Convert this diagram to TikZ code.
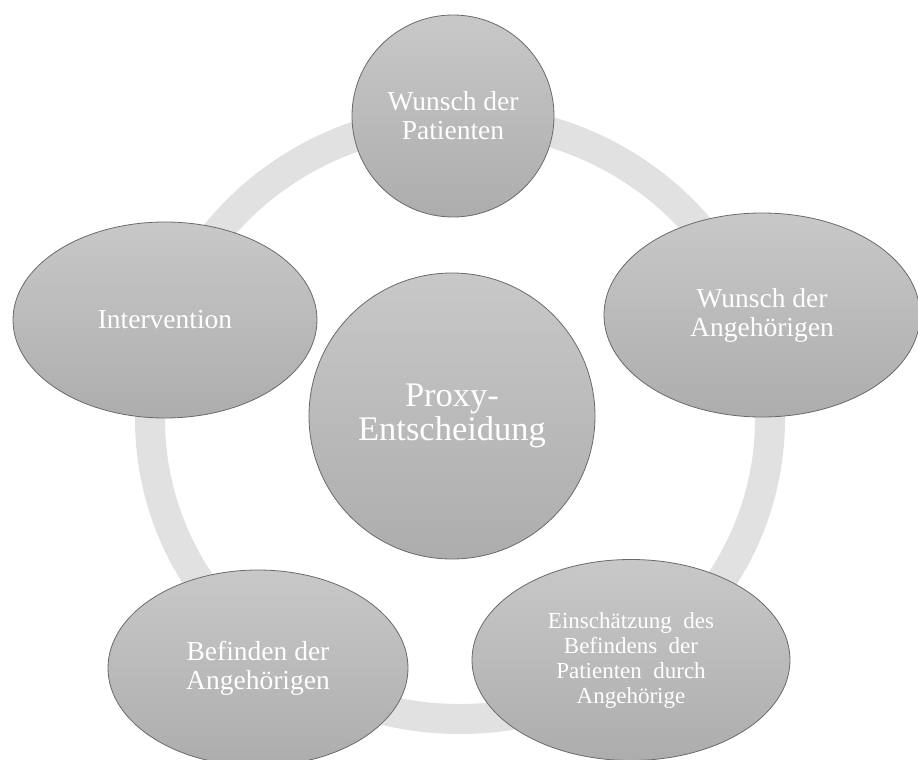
\documentclass[tikz,border=0pt]{standalone}
\usepackage{fontspec}
\setmainfont{Liberation Serif}
\usetikzlibrary{shapes.geometric}
\definecolor{ringgray}{HTML}{E1E1E1}
\definecolor{topgray}{HTML}{C8C8C8}
\definecolor{botgray}{HTML}{ADADAD}
\definecolor{edgegray}{HTML}{6A6A6A}
\tikzset{
  bubble/.style={draw=edgegray, line width=0.8pt, top color=topgray, bottom color=botgray,
    text=white, align=center, inner sep=0pt},
  circbub/.style={bubble, circle},
  ellbub/.style={bubble, ellipse},
  ring/.style={draw=ringgray, line width=30pt},
  normtext/.style={font=\fontsize{27.5}{29}\selectfont},
  bigtext/.style={font=\fontsize{34.5}{34.5}\selectfont},
  smalltext/.style={font=\fontsize{23}{25}\selectfont}
}
\begin{document}
\begin{tikzpicture}[x=1pt,y=-1pt]
\useasboundingbox (0,0) rectangle (918,760);
\draw[ring] (460,419) ellipse [x radius=310, y radius=300];
\node[circbub, normtext, minimum size=202pt] (pat) at (453,116) {Wunsch der\\Patienten};
\node[ellbub, normtext, minimum width=316pt, minimum height=204pt] (ang) at (762,315) {Wunsch der\\Angehörigen};
\node[ellbub, smalltext, minimum width=318pt, minimum height=201pt] (einsch) at (631,660) {Einschätzung\ \ des\\Befindens\ \ der\\Patienten\ \ durch\\Angehörige};
\node[ellbub, normtext, minimum width=300pt, minimum height=196pt] (bef) at (258,668) {Befinden der\\Angehörigen};
\node[ellbub, normtext, minimum width=304pt, minimum height=196pt] (int) at (165,320) {Intervention};
\node[circbub, bigtext, minimum size=286pt] (proxy) at (452,416) {Proxy-\\Entscheidung};
\end{tikzpicture}
\end{document}
